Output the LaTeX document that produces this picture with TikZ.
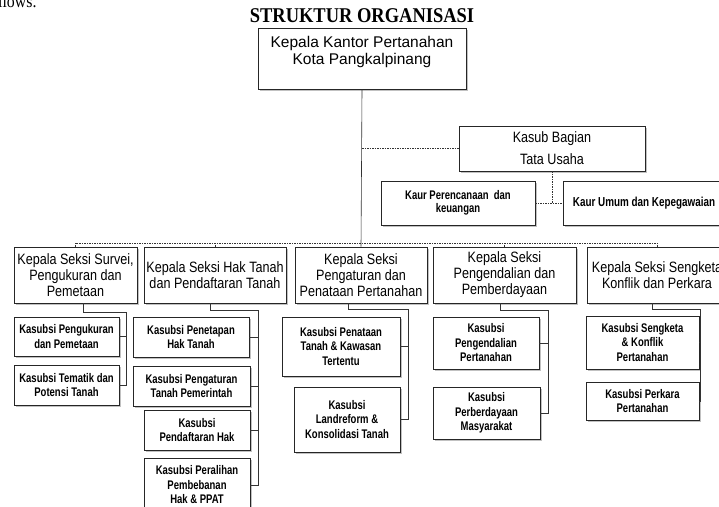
\documentclass[tikz,border=0pt]{standalone}
\usepackage{fontspec}
\setmainfont{Liberation Sans}
\newfontfamily\narrowfont{Liberation Sans}[FakeStretch=0.84]
\newfontfamily\smallfont{Liberation Sans}[FakeStretch=0.76]
\newfontfamily\titlefont{Liberation Serif}[FakeStretch=0.88]
\usetikzlibrary{shadows}
\tikzset{box/.style={draw=black!85, line width=0.8pt, fill=white, align=center, inner sep=0pt,
		drop shadow={shadow xshift=1.5pt, shadow yshift=-1.5pt, opacity=0.35, fill=black!70}},
	seksi/.style={box, minimum height=56pt, font=\narrowfont\fontsize{15}{16}\selectfont},
	sub/.style={box, font=\smallfont\bfseries\fontsize{12.5}{14.5}\selectfont},
	bus/.style={line width=0.6pt, black!80},
	dashline/.style={line width=0.6pt, black!80, dash pattern=on 1.5pt off 1pt}}

\begin{document}
\begin{tikzpicture}[x=1pt,y=-1pt]
		\useasboundingbox (0,0) rectangle (719,506);
		\clip (0,0) rectangle (719,506);
		\node[font=\titlefont\fontsize{18}{18}\selectfont, anchor=base east] (rest) at (40,8) {follows.};
		\node[font=\titlefont\bfseries\fontsize{21}{22}\selectfont] (title) at (362,15.5) {STRUKTUR ORGANISASI};
		
		\node[box, minimum width=208pt, minimum height=61pt, font=\fontsize{15.5}{17}\selectfont] (top) at (362,58.5) {Kepala Kantor Pertanahan\\Kota Pangkalpinang\\\mbox{}};
		\node[box, minimum width=186pt, minimum height=45pt, font=\narrowfont\fontsize{15}{22}\selectfont] (tu) at (552,148.5) {Kasub Bagian\\Tata Usaha};
		\node[sub, minimum width=154pt, minimum height=44pt, font=\smallfont\bfseries\fontsize{12.5}{13.5}\selectfont] (kr1) at (458,203) {Kaur Perencanaan\ \ dan\\keuangan};
		\node[sub, minimum width=162pt, minimum height=44pt, font=\smallfont\bfseries\fontsize{13}{14}\selectfont] (kr2) at (644,203) {Kaur Umum dan Kepegawaian};
		
		\node[seksi, minimum width=123pt] (s1) at (75.5,275) {Kepala Seksi Survei,\\Pengukuran dan\\Pemetaan};
		\node[seksi, minimum width=142pt] (s2) at (215,275) {Kepala Seksi Hak Tanah\\dan Pendaftaran Tanah};
		\node[seksi, minimum width=132pt] (s3) at (361,275) {Kepala Seksi\\Pengaturan dan\\Penataan Pertanahan};
		\node[seksi, minimum width=143pt] (s4) at (504.5,275) {Kepala Seksi\\Pengendalian dan\\Pemberdayaan};
		\node[seksi, minimum width=140pt] (s5) at (657,275) {Kepala Seksi Sengketa\\Konflik dan Perkara};
		
		\node[sub, minimum width=105pt, minimum height=39pt] (k11) at (66.5,336.5) {Kasubsi Pengukuran\\dan Pemetaan};
		\node[sub, minimum width=105pt, minimum height=40pt] (k12) at (66.5,385) {Kasubsi Tematik dan\\Potensi Tanah};
		\node[sub, minimum width=116pt, minimum height=40pt] (k21) at (191,337) {Kasubsi Penetapan\\Hak Tanah};
		\node[sub, minimum width=117pt, minimum height=40pt] (k22) at (191.5,386) {Kasubsi Pengaturan\\Tanah Pemerintah};
		\node[sub, minimum width=106pt, minimum height=40pt] (k23) at (197,430) {Kasubsi\\Pendaftaran Hak};
		\node[sub, minimum width=106pt, minimum height=54pt] (k24) at (197,485) {Kasubsi Peralihan\\Pembebanan\\Hak \& PPAT};
		\node[sub, minimum width=118pt, minimum height=59pt] (k31) at (341,346.5) {Kasubsi Penataan\\Tanah \& Kawasan\\Tertentu};
		\node[sub, minimum width=106pt, minimum height=65pt] (k32) at (347,419.5) {Kasubsi\\Landreform \&\\Konsolidasi Tanah};
		\node[sub, minimum width=106pt, minimum height=52pt] (k41) at (486,343) {Kasubsi\\Pengendalian\\Pertanahan};
		\node[sub, minimum width=107pt, minimum height=52pt] (k42) at (486.5,413) {Kasubsi\\Perberdayaan\\Masyarakat};
		\node[sub, minimum width=113pt, minimum height=53pt] (k51) at (642.5,342.5) {Kasubsi Sengketa\\\& Konflik\\Pertanahan};
		\node[sub, minimum width=113pt, minimum height=38pt] (k52) at (642.5,401) {Kasubsi Perkara\\Pertanahan};
		
		\coordinate (line) at (362,243);
		\coordinate (b1) at (126,312);
		\coordinate (b2) at (258,310);
		\coordinate (b3) at (408,309);
		\coordinate (b4) at (548,310);
		\coordinate (b5) at (700,309);
		
		% garis komando
		\draw[bus] (top.south) -- (s3.north);
		\draw[dashline] (top.south |- tu.west) -- (tu.west);
		\draw[dashline] (tu.south) -- (tu.south |- kr1.east);
		\draw[dashline] (kr1.east) -- (kr2.west);
		\draw[dashline] (s1.north) |- (line) -| (s5.north);
		\draw[dashline] (s2.north) -- (s2.north |- line);
		\draw[dashline] (s4.north) -- (s4.north |- line);
		
		\draw[bus] ([xshift=7.5pt]s1.south) |- (b1) |- (k12.east);
		\draw[bus] (k11.east) -- (k11.east -| b1);
		\draw[bus] ([xshift=-5pt]s2.south) |- (b2) |- (k24.east);
		\draw[bus] (k21.east) -- (k21.east -| b2);
		\draw[bus] (k22.east) -- (k22.east -| b2);
		\draw[bus] (k23.east) -- (k23.east -| b2);
		\draw[bus] ([xshift=-13pt]s3.south) |- (b3) |- (k32.east);
		\draw[bus] (k31.east) -- (k31.east -| b3);
		\draw[bus] ([xshift=-4.5pt]s4.south) |- (b4) |- (k42.east);
		\draw[bus] (k41.east) -- (k41.east -| b4);
		\draw[bus] ([xshift=-5pt]s5.south) |- (b5) |- (k52.east);
		\draw[bus] (k51.east) -- (k51.east -| b5);
		
\end{tikzpicture}
\end{document}
